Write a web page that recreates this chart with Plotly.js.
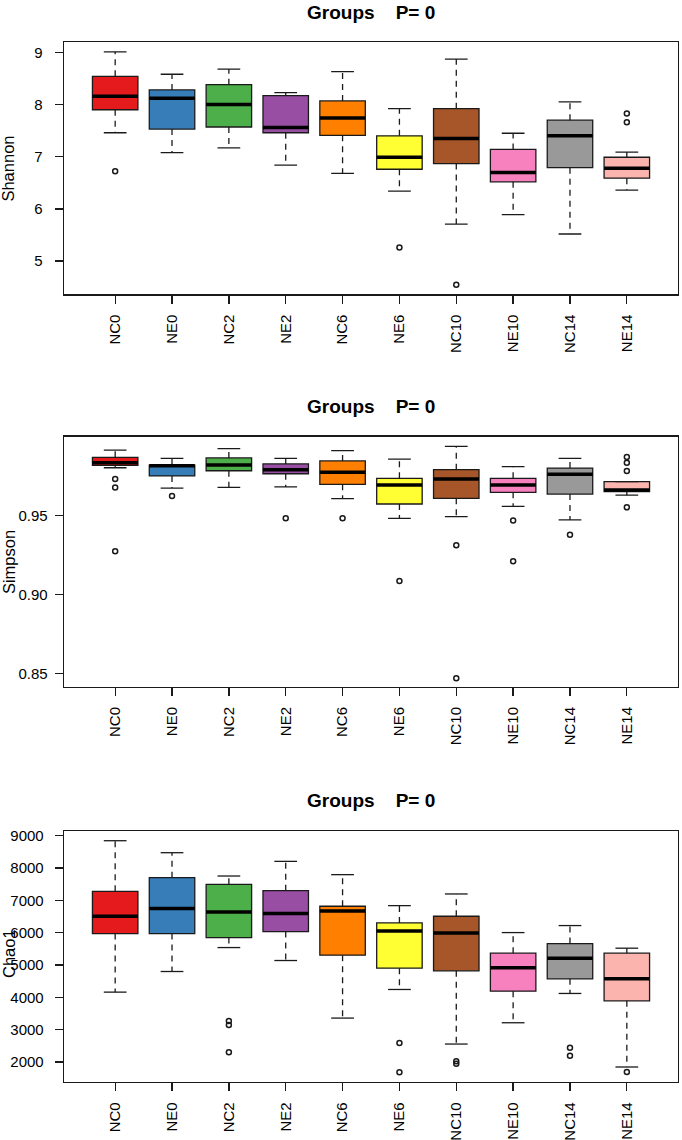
<!DOCTYPE html>
<html><head><meta charset="utf-8">
<script src="https://cdn.plot.ly/plotly-3.0.1.min.js"></script>
<style>html,body{margin:0;padding:0;background:#fff}#chart{width:682px;height:1140px}</style>
</head><body><div id="chart"></div>
<script>
const groups = ['NC0','NE0','NC2','NE2','NC6','NE6','NC10','NE10','NC14','NE14'];
const groupColors = ['#E41A1C','#377EB8','#4DAF4A','#984EA3','#FF7F00','#FFFF33','#A65628','#F781BF','#999999','#FBB4AE'];

// Shannon
const shannonLow    = [7.46,7.08,7.17,6.84,6.68,6.34,5.71,5.89,5.52,6.36];
const shannonQ1     = [7.90,7.53,7.57,7.46,7.41,6.76,6.87,6.52,6.79,6.59];
const shannonMedian = [8.16,8.12,8.00,7.56,7.74,6.99,7.35,6.70,7.40,6.78];
const shannonQ3     = [8.54,8.28,8.38,8.17,8.07,7.40,7.92,7.14,7.70,6.99];
const shannonHigh   = [9.01,8.58,8.68,8.23,8.63,7.92,8.87,7.45,8.05,7.09];
const shannonOutliers = [[6.72],[],[],[],[],[5.26],[4.55],[],[],[7.83,7.66]];

// Simpson
const simpsonLow    = [0.9804,0.9675,0.9680,0.9682,0.9608,0.9483,0.9494,0.9559,0.9473,0.9630];
const simpsonQ1     = [0.9819,0.9752,0.9785,0.9766,0.9699,0.9574,0.9610,0.9648,0.9637,0.9652];
const simpsonMedian = [0.9836,0.9817,0.9821,0.9792,0.9775,0.9694,0.9733,0.9694,0.9762,0.9663];
const simpsonQ3     = [0.9870,0.9821,0.9866,0.9828,0.9847,0.9737,0.9792,0.9737,0.9802,0.9716];
const simpsonHigh   = [0.9916,0.9864,0.9925,0.9864,0.9912,0.9859,0.9940,0.9811,0.9864,0.9716];
const simpsonOutliers = [[0.9733,0.9678,0.9274],[0.9625],[],[0.9483],[0.9483],[0.9086],[0.9312,0.8468],[0.9470,0.9210],[0.9379],[0.9872,0.9836,0.9783,0.9553]];

// Chao1
const chaoLow    = [4162,4800,5541,5140,3359,4244,2556,3215,4121,1846];
const chaoQ1     = [5974,5974,5850,6035,5304,4903,4821,4193,4574,3894];
const chaoMedian = [6509,6746,6643,6591,6674,6056,5994,4913,5212,4574];
const chaoQ3     = [7281,7703,7497,7301,6818,6303,6509,5366,5665,5366];
const chaoHigh   = [8846,8475,7754,8207,7796,6838,7199,6004,6221,5521];
const chaoOutliers = [[],[],[3266,3143,2299],[],[],[2587,1681],[2021,1949],[],[2443,2196],[1691]];

const panelTitle = 'Groups\u00A0\u00A0\u00A0\u00A0P= 0';
const yLabels = ['Shannon','Simpson','Chao1'];

const panels = [
  {low:shannonLow,q1:shannonQ1,med:shannonMedian,q3:shannonQ3,high:shannonHigh,out:shannonOutliers,xa:'x',ya:'y'},
  {low:simpsonLow,q1:simpsonQ1,med:simpsonMedian,q3:simpsonQ3,high:simpsonHigh,out:simpsonOutliers,xa:'x2',ya:'y2'},
  {low:chaoLow,q1:chaoQ1,med:chaoMedian,q3:chaoQ3,high:chaoHigh,out:chaoOutliers,xa:'x3',ya:'y3'}
];

const pos = groups.map((g,i)=>i+1);
const traces = [];
const ink = '#1a1a1a';
panels.forEach(p=>{
  pos.forEach((x,i)=>{
    traces.push({type:'box', x:[x], q1:[p.q1[i]], median:[p.med[i]], q3:[p.q3[i]],
      lowerfence:[p.q1[i]], upperfence:[p.q3[i]], width:0.8, whiskerwidth:0,
      fillcolor:groupColors[i], line:{color:ink,width:1.3}, boxpoints:false,
      xaxis:p.xa, yaxis:p.ya, showlegend:false, hoverinfo:'skip'});
  });
  const wx=[], wy=[];
  pos.forEach((x,i)=>{ wx.push(x,x,null,x,x,null); wy.push(p.q3[i],p.high[i],null,p.q1[i],p.low[i],null); });
  traces.push({type:'scatter',mode:'lines',x:wx,y:wy,line:{color:ink,width:1.3,dash:'6px,5px'},xaxis:p.xa,yaxis:p.ya,showlegend:false,hoverinfo:'skip'});
  const cx=[], cy=[];
  pos.forEach((x,i)=>{ cx.push(x-0.2,x+0.2,null,x-0.2,x+0.2,null); cy.push(p.high[i],p.high[i],null,p.low[i],p.low[i],null); });
  traces.push({type:'scatter',mode:'lines',x:cx,y:cy,line:{color:ink,width:1.3},xaxis:p.xa,yaxis:p.ya,showlegend:false,hoverinfo:'skip'});
  const mx=[], my=[];
  pos.forEach((x,i)=>{ mx.push(x-0.4,x+0.4,null); my.push(p.med[i],p.med[i],null); });
  traces.push({type:'scatter',mode:'lines',x:mx,y:my,line:{color:'#000',width:3.5},xaxis:p.xa,yaxis:p.ya,showlegend:false,hoverinfo:'skip'});
  const ox=[], oy=[];
  pos.forEach((x,i)=>{ p.out[i].forEach(v=>{ox.push(x); oy.push(v);}); });
  traces.push({type:'scatter',mode:'markers',x:ox,y:oy,marker:{symbol:'circle-open',size:5,color:ink,line:{width:1.5,color:ink}},xaxis:p.xa,yaxis:p.ya,showlegend:false,hoverinfo:'skip'});
});

const font = {family:'Liberation Sans, Arial, Helvetica, sans-serif', size:15, color:'#000'};
function xAxis(anchor){
  return {anchor:anchor, domain:[0,1], range:[0.1,10.9], tickvals:pos, ticktext:groups, tickangle:-90,
    ticks:'outside', ticklen:8, tickwidth:1.3, tickcolor:ink, ticklabelstandoff:5,
    showline:true, mirror:true, linecolor:ink, linewidth:1.3, showgrid:false, zeroline:false, tickfont:font};
}
function yAxis(anchor, domain, range, standoff, extra){
  return Object.assign({anchor:anchor, domain:domain, range:range, ticks:'outside', ticklen:8, tickwidth:1.3,
    tickcolor:ink, ticklabelstandoff:standoff, showline:true, mirror:true, linecolor:ink, linewidth:1.3,
    showgrid:false, zeroline:false, tickfont:font}, extra);
}
const titleFont = {family:font.family,size:19,color:'#000',weight:'bold'};
const labFont = {family:font.family,size:16.5,color:'#000'};

const layout = {
  width:682, height:1140, paper_bgcolor:'#fff', plot_bgcolor:'#fff',
  margin:{l:64,r:4,t:42,b:58}, boxmode:'overlay', showlegend:false, font:font,
  xaxis:xAxis('y'), xaxis2:xAxis('y2'), xaxis3:xAxis('y3'),
  yaxis:yAxis('x',[0.7574,1.0],[4.365,9.198],9,{tickvals:[5,6,7,8,9]}),
  yaxis2:yAxis('x2',[0.3801,0.6205],[0.8415,1.0001],4,{tickvals:[0.85,0.90,0.95],tickformat:'.2f'}),
  yaxis3:yAxis('x3',[0,0.2413],[1382,9145],8,{tickvals:[2000,3000,4000,5000,6000,7000,8000,9000]}),
  annotations:[
    {text:panelTitle,xref:'paper',yref:'paper',x:0.5,y:1.0288,xanchor:'center',yanchor:'middle',showarrow:false,font:titleFont},
    {text:panelTitle,xref:'paper',yref:'paper',x:0.5,y:0.6495,xanchor:'center',yanchor:'middle',showarrow:false,font:titleFont},
    {text:panelTitle,xref:'paper',yref:'paper',x:0.5,y:0.2702,xanchor:'center',yanchor:'middle',showarrow:false,font:titleFont},
    {text:yLabels[0],xref:'paper',yref:'paper',x:-0.0905,y:(0.7574+1.0)/2,xanchor:'center',yanchor:'middle',textangle:-90,showarrow:false,font:labFont},
    {text:yLabels[1],xref:'paper',yref:'paper',x:-0.0905,y:(0.3801+0.6205)/2,xanchor:'center',yanchor:'middle',textangle:-90,showarrow:false,font:labFont},
    {text:yLabels[2],xref:'paper',yref:'paper',x:-0.0905,y:0.1235,xanchor:'center',yanchor:'middle',textangle:-90,showarrow:false,font:labFont}
  ]
};

Plotly.newPlot('chart', traces, layout, {staticPlot:true, displayModeBar:false});
</script>
</body></html>
